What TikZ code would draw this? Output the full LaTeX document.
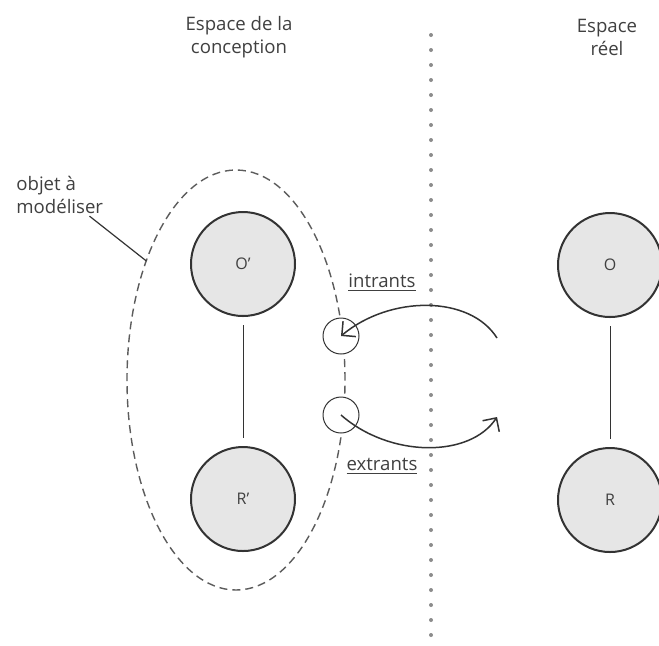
\documentclass[tikz,border=0pt]{standalone}
\usepackage{fontspec}
\setmainfont{Open Sans}
\usetikzlibrary{shapes.geometric,arrows.meta,calc}
\definecolor{trait}{HTML}{333333}
\definecolor{texte}{HTML}{404040}
\definecolor{remplissage}{HTML}{E6E6E6}
\tikzset{
	objet/.style={circle, draw=trait, line width=1pt, fill=remplissage, minimum size=52pt, inner sep=0pt, text=texte, font=\fontsize{8}{10}\selectfont},
	port/.style={circle, draw=trait, line width=0.5pt, fill=white, minimum size=18pt, inner sep=0pt},
	titre/.style={align=center, text=texte},
	lien/.style={draw=trait, line width=0.5pt, shorten <=4pt, shorten >=4pt},
	flux/.style={draw=trait, line width=0.75pt, -{Straight Barb[length=5pt,width=10pt]}},
	separ/.style={draw=black!45, line width=2pt, line cap=round, dash pattern=on 0pt off 7.5pt}
}

\begin{document}
\begin{tikzpicture}[x=0.5pt, y=-0.5pt, font=\fontsize{9.3}{11.5}\selectfont]
				\useasboundingbox (0,0) rectangle (659,645);
				\fill[white] (0,0) rectangle (659,645);
				
				% espace de la conception
				\node[titre] (tconc) at (239,37) {Espace de la\\conception};
				\node[ellipse, draw=trait!80, line width=0.7pt, dash pattern=on 4pt off 2.5pt, minimum width=109pt, minimum height=210pt, outer sep=0pt] (obj) at (236,380) {};
				\node[titre, align=left, anchor=west, inner sep=1pt] (lbl) at (14,195) {objet à\\modéliser};
				\draw[trait, line width=0.6pt] ([xshift=-8pt]lbl.south east) -- (obj.127);
				
				\node[objet] (Oc) at (243,264) {O’};
				\node[objet] (Rc) at (243,499) {R’};
				\draw[lien] (Oc) -- (Rc);
				
				\node[port] (in) at (341,336) {};
				\node[port] (out) at (341,415) {};
				\node[text=texte] (lin) at (382,283) {\underline{intrants}};
				\node[text=texte] (lout) at (382,466) {\underline{extrants}};
				
				% separation
				\coordinate (sepH) at (431,35);
				\coordinate (sepB) at (431,640);
				\draw[separ] (sepH) -- (sepB);
				
				% espace reel
				\node[titre] (treel) at (607,37) {Espace\\réel};
				\node[objet] (O) at (610,265) {O};
				\node[objet] (R) at (610,500) {R};
				\draw[lien] (O) -- (R);
				
				% intrants et extrants
				\coordinate (dep) at (497,338);
				\coordinate (arr) at (497,417);
				\draw[flux] (dep) .. controls (470,295) and (390,295) .. (in.center);
				\draw[flux] (out.center) .. controls (390,458) and (470,458) .. (arr);
\end{tikzpicture}
\end{document}
